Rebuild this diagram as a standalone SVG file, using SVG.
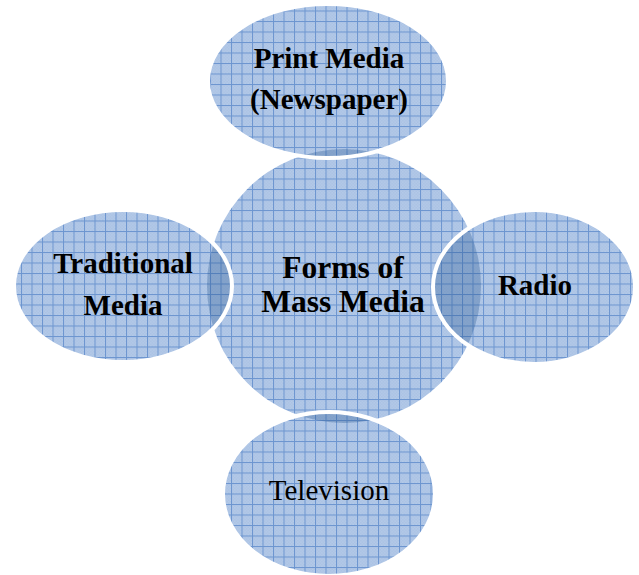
<svg xmlns="http://www.w3.org/2000/svg" width="639" height="575" viewBox="0 0 639 575">
  <style>
    .shape { fill: url(#grid); }
    .edge { fill: none; stroke: #ffffff; stroke-width: 4; }
    .lens { fill: #1f4e8c; fill-opacity: 0.3; clip-path: url(#centerClip); }
    .lbl { font-family: "Liberation Serif", "Times New Roman", serif; font-size: 29px; font-weight: bold; fill: #000; text-anchor: middle; }
    .big { font-size: 31.5px; }
    .reg { font-weight: normal; }
  </style>
  <defs>
    <pattern id="fine" width="3" height="3" patternUnits="userSpaceOnUse">
      <rect width="3" height="3" fill="#a9c1e3"/>
      <rect width="1.5" height="1.5" fill="#b5cbe9"/>
      <rect x="1.5" y="1.5" width="1.5" height="1.5" fill="#b5cbe9"/>
    </pattern>
    <pattern id="grid" width="10.5" height="10.5" patternUnits="userSpaceOnUse">
      <rect width="10.5" height="10.5" fill="url(#fine)"/>
      <rect width="10.5" height="1" fill="#6c95cf"/>
      <rect width="1" height="10.5" fill="#6c95cf"/>
    </pattern>
    <clipPath id="centerClip">
      <circle cx="344" cy="286" r="137"/>
    </clipPath>
  </defs>

  <g id="connectors"/>

  <g id="center">
    <circle class="shape" cx="344" cy="286" r="137"/>
    <text class="lbl big" x="343" y="278">Forms of</text>
    <text class="lbl big" x="343" y="312">Mass Media</text>
  </g>

  <g id="print-media">
    <ellipse class="shape" cx="328" cy="81" rx="120" ry="77"/>
    <ellipse class="lens" cx="328" cy="81" rx="120" ry="77"/>
    <ellipse class="edge" cx="328" cy="81" rx="120" ry="77"/>
    <text class="lbl" x="329" y="68">Print Media</text>
    <text class="lbl" x="329" y="109">(Newspaper)</text>
  </g>

  <g id="traditional-media">
    <ellipse class="shape" cx="123" cy="286" rx="109" ry="76"/>
    <ellipse class="lens" cx="123" cy="286" rx="109" ry="76"/>
    <ellipse class="edge" cx="123" cy="286" rx="109" ry="76"/>
    <text class="lbl" x="123" y="273">Traditional</text>
    <text class="lbl" x="123" y="315">Media</text>
  </g>

  <g id="radio">
    <ellipse class="shape" cx="534" cy="287" rx="101" ry="77"/>
    <ellipse class="lens" cx="534" cy="287" rx="101" ry="77"/>
    <ellipse class="edge" cx="534" cy="287" rx="101" ry="77"/>
    <text class="lbl" x="535" y="295">Radio</text>
  </g>

  <g id="television">
    <ellipse class="shape" cx="329" cy="494" rx="106" ry="82"/>
    <ellipse class="lens" cx="329" cy="494" rx="106" ry="82"/>
    <ellipse class="edge" cx="329" cy="494" rx="106" ry="82"/>
    <text class="lbl reg" x="329" y="500">Television</text>
  </g>
</svg>
